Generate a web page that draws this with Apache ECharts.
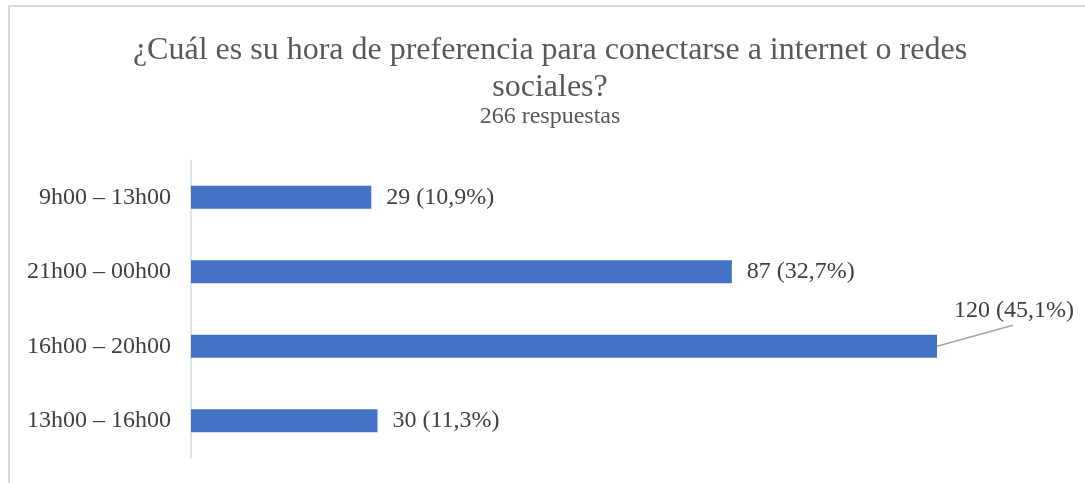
<!DOCTYPE html>
<html>
<head>
<meta charset="utf-8">
<script src="https://cdn.jsdelivr.net/npm/echarts@6/dist/echarts.min.js"></script>
<style>
  html, body { margin: 0; padding: 0; background: #fff; }
  #chart { width: 1085px; height: 483px; }
</style>
</head>
<body>
<div id="chart"></div>
<script>
// Survey: preferred time slot for going online (266 respuestas)
const categories = ['9h00 – 13h00', '21h00 – 00h00', '16h00 – 20h00', '13h00 – 16h00'];
const counts = [29, 87, 120, 30];
const totalResponses = 266;
const titleLines = ['¿Cuál es su hora de preferencia para conectarse a internet o redes', 'sociales?'];
const subtitle = totalResponses + ' respuestas';

const serif = "'Liberation Serif', 'Times New Roman', serif";
// the longest bar gets its label lifted above it, joined by a leader line
const calloutIndex = counts.indexOf(Math.max.apply(null, counts));
const calloutShift = { dx: 2, dy: -36 };

function pctLabel(v) {
  return (v / totalResponses * 100).toFixed(1).replace('.', ',') + '%';
}

const chart = echarts.init(document.getElementById('chart'), null, { renderer: 'canvas' });

chart.setOption({
  animation: false,
  backgroundColor: '#ffffff',
  title: {
    text: titleLines.join('\n'),
    subtext: subtitle,
    left: 545,
    textAlign: 'center',
    top: 27,
    itemGap: 0,
    textStyle: {
      fontFamily: serif,
      fontSize: 32,
      fontWeight: 'normal',
      color: '#595959',
      lineHeight: 37
    },
    subtextStyle: {
      fontFamily: serif,
      fontSize: 24,
      color: '#595959',
      lineHeight: 22
    }
  },
  grid: { left: 191, right: 148, top: 160, bottom: 25, containLabel: false },
  xAxis: {
    type: 'value',
    min: 0,
    max: 120,
    show: false
  },
  yAxis: {
    type: 'category',
    inverse: true,
    data: categories,
    axisLine: { show: true, lineStyle: { color: '#d9d9d9', width: 1.5 } },
    axisTick: { show: false },
    axisLabel: {
      margin: 20,
      padding: [3, 0, 0, 0],
      fontFamily: serif,
      fontSize: 24,
      color: '#404040'
    },
    splitLine: { show: false }
  },
  series: [{
    type: 'bar',
    data: counts,
    barWidth: 23,
    itemStyle: { color: '#4472c4' },
    label: {
      show: true,
      position: 'right',
      distance: 15,
      padding: [3, 0, 0, 0],
      fontFamily: serif,
      fontSize: 24,
      color: '#404040',
      formatter: p => p.value + ' (' + pctLabel(p.value) + ')'
    },
    labelLayout: function (params) {
      if (params.dataIndex === calloutIndex) {
        return calloutShift;
      }
      return {};
    }
  }]
});

// frame and leader line, placed from the chart's own coordinate conversion
const barEnd = chart.convertToPixel({ seriesIndex: 0 }, [counts[calloutIndex], calloutIndex]);
chart.setOption({
  graphic: [
    {
      type: 'rect',
      silent: true,
      shape: { x: 9, y: 6, width: 1200, height: 600 },
      style: { fill: 'none', stroke: '#d9d9d9', lineWidth: 2 }
    },
    {
      type: 'line',
      silent: true,
      shape: {
        x1: barEnd[0], y1: barEnd[1],
        x2: barEnd[0] + 76, y2: barEnd[1] - 21
      },
      style: { stroke: '#a6a6a6', lineWidth: 1.5 }
    }
  ]
});
</script>
</body>
</html>
